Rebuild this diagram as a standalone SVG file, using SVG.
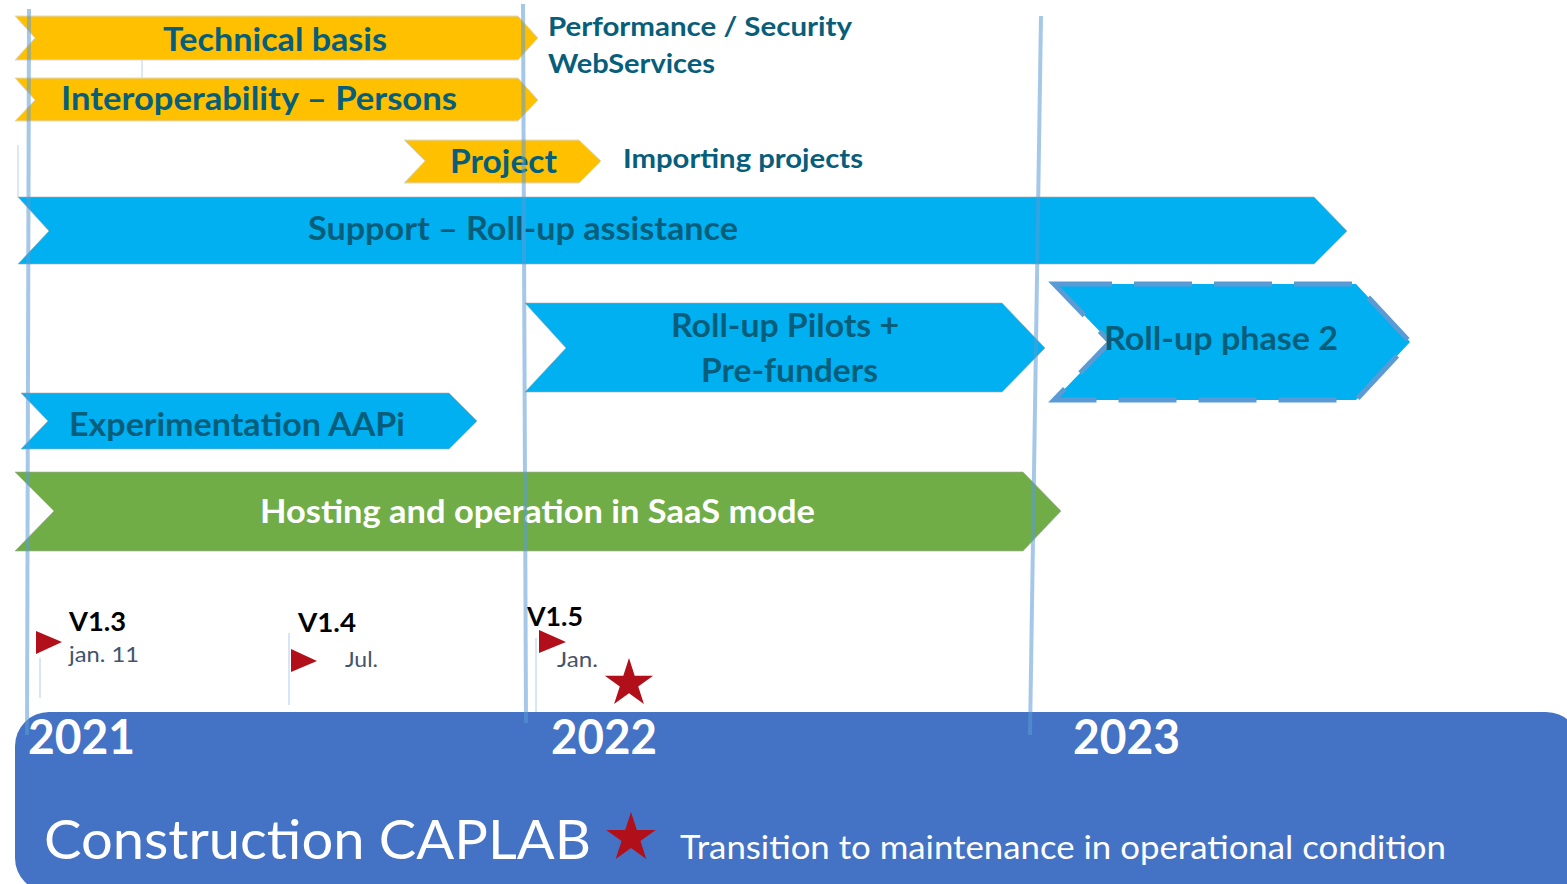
<svg xmlns="http://www.w3.org/2000/svg" xmlns:xlink="http://www.w3.org/1999/xlink" width="1567" height="884" viewBox="0 0 1567 884">
<style>
.yel{fill:#FFC000;stroke:#D9D9D9;stroke-width:1}
.blu{fill:#00B0F0;stroke:#A6A6A6;stroke-width:1;stroke-opacity:.6}
.grn{fill:#70AD47;stroke:#A6A6A6;stroke-width:1;stroke-opacity:.6}
.dash{fill:#00B0F0;stroke:#5B9BD5;stroke-width:5;stroke-dasharray:58 22}
.lbl{font-family:Lato,"Liberation Sans",sans-serif;font-weight:bold;fill:#075E7B}
.big{font-size:33px}
.mid{font-size:27px}
.wht{fill:#FFFFFF}
.ver{font-family:Lato,"Liberation Sans",sans-serif;font-weight:bold;font-size:26px;fill:#000000}
.date{font-family:Lato,"Liberation Sans",sans-serif;font-size:22px;fill:#44546A}
.flag{fill:#B1101A}
.pole{stroke:#D6E6F5;stroke-width:2}
.grid{stroke:#5B9BD5;stroke-opacity:.55;stroke-width:4;fill:none}
.faint{stroke:#DCE9F5;stroke-width:2}
.year{font-family:Lato,"Liberation Sans",sans-serif;font-weight:bold;font-size:47px;fill:#FFFFFF}
.foot{font-family:Lato,"Liberation Sans",sans-serif;fill:#FFFFFF}
</style>
<defs>
<path id="star" d="M0,-1 L0.2245,-0.309 L0.951,-0.309 L0.3633,0.118 L0.5878,0.809 L0,0.382 L-0.5878,0.809 L-0.3633,0.118 L-0.951,-0.309 L-0.2245,-0.309Z"/>
</defs>
<rect width="1567" height="884" fill="#FFFFFF"/>

<g id="faint-marks">
<line class="faint" x1="18" y1="145" x2="18" y2="197"/>
<line class="faint" x1="142" y1="60" x2="142" y2="78"/>
</g>

<g id="technical-basis">
<polygon class="yel" points="15,16 518,16 538,38 518,60 15,60 35,38"/>
<text class="lbl big" x="163" y="51" textLength="224" lengthAdjust="spacingAndGlyphs">Technical basis</text>
</g>
<g id="performance-note">
<text class="lbl mid" x="548" y="36" textLength="304" lengthAdjust="spacingAndGlyphs">Performance / Security</text>
<text class="lbl mid" x="548" y="73" textLength="167" lengthAdjust="spacingAndGlyphs">WebServices</text>
</g>
<g id="interoperability">
<polygon class="yel" points="15,78 518,78 538,100 518,121 15,121 35,100"/>
<text class="lbl big" x="61" y="110" textLength="396" lengthAdjust="spacingAndGlyphs">Interoperability – Persons</text>
</g>
<g id="project">
<polygon class="yel" points="404,140 579,140 601,161 579,183 404,183 425,161"/>
<text class="lbl big" x="450" y="173" textLength="107" lengthAdjust="spacingAndGlyphs">Project</text>
</g>
<g id="importing-note">
<text class="lbl mid" x="623" y="168" textLength="240" lengthAdjust="spacingAndGlyphs">Importing projects</text>
</g>
<g id="support">
<polygon class="blu" points="18,197 1314,197 1347,231 1314,264 18,264 49,231"/>
<text class="lbl big" x="308" y="240" textLength="430" lengthAdjust="spacingAndGlyphs">Support – Roll-up assistance</text>
</g>
<g id="rollup-pilots">
<polygon class="blu" points="525,303 1002,303 1045,348 1002,392 525,392 566,348"/>
<text class="lbl big" x="671" y="337" textLength="228" lengthAdjust="spacingAndGlyphs">Roll-up Pilots +</text>
<text class="lbl big" x="701" y="382" textLength="177" lengthAdjust="spacingAndGlyphs">Pre-funders</text>
</g>
<g id="rollup-phase2">
<polygon class="dash" points="1054,284 1356,284 1410,342 1356,400 1054,400 1110,342"/>
<text class="lbl big" x="1104" y="350" textLength="234" lengthAdjust="spacingAndGlyphs">Roll-up phase 2</text>
</g>
<g id="experimentation">
<polygon class="blu" points="21,393 449,393 477,421 449,449 21,449 48,421"/>
<text class="lbl big" x="69" y="436" textLength="336" lengthAdjust="spacingAndGlyphs">Experimentation AAPi</text>
</g>
<g id="hosting">
<polygon class="grn" points="15,472 1023,472 1061,511 1023,551 15,551 54,511"/>
<text class="lbl big wht" x="260" y="523" textLength="555" lengthAdjust="spacingAndGlyphs">Hosting and operation in SaaS mode</text>
</g>

<g id="milestone-v13">
<line class="pole" x1="40" y1="658" x2="40" y2="698"/>
<polygon class="flag" points="36,631 62,642 36,654"/>
<text class="ver" x="69" y="631" textLength="57" lengthAdjust="spacingAndGlyphs">V1.3</text>
<text class="date" x="69" y="662" textLength="70" lengthAdjust="spacingAndGlyphs">jan. 11</text>
</g>
<g id="milestone-v14">
<line class="pole" x1="289" y1="633" x2="289" y2="705"/>
<polygon class="flag" points="291,649 317,661 291,672"/>
<text class="ver" x="298" y="632" textLength="58" lengthAdjust="spacingAndGlyphs">V1.4</text>
<text class="date" x="345" y="667" textLength="33" lengthAdjust="spacingAndGlyphs">Jul.</text>
</g>
<g id="milestone-v15">
<line class="pole" x1="536" y1="638" x2="536" y2="712"/>
<polygon class="flag" points="539,630 566,642 539,653"/>
<text class="ver" x="527" y="626" textLength="56" lengthAdjust="spacingAndGlyphs">V1.5</text>
<text class="date" x="557" y="667" textLength="41" lengthAdjust="spacingAndGlyphs">Jan.</text>
<use xlink:href="#star" href="#star" class="flag" transform="translate(629,683.5) scale(25.4)"/>
</g>

<g id="timeline-bar">
<rect x="15" y="712" width="1565" height="180" rx="34" ry="34" fill="#4472C4"/>
<text class="year" x="28" y="754" textLength="107" lengthAdjust="spacingAndGlyphs">2021</text>
<text class="year" x="551" y="754" textLength="106" lengthAdjust="spacingAndGlyphs">2022</text>
<text class="year" x="1073" y="754" textLength="107" lengthAdjust="spacingAndGlyphs">2023</text>
<text class="foot" x="44" y="859" font-size="54" textLength="547" lengthAdjust="spacingAndGlyphs">Construction CAPLAB</text>
<use xlink:href="#star" href="#star" class="flag" transform="translate(631,838) scale(26)"/>
<text class="foot" x="680" y="859" font-size="32" textLength="766" lengthAdjust="spacingAndGlyphs">Transition to maintenance in operational condition</text>
</g>

<g id="connectors">
<line class="grid" x1="29" y1="9" x2="27" y2="735"/>
<line class="grid" x1="523" y1="4" x2="526" y2="723"/>
<line class="grid" x1="1041" y1="16" x2="1030" y2="735"/>
</g>
</svg>
